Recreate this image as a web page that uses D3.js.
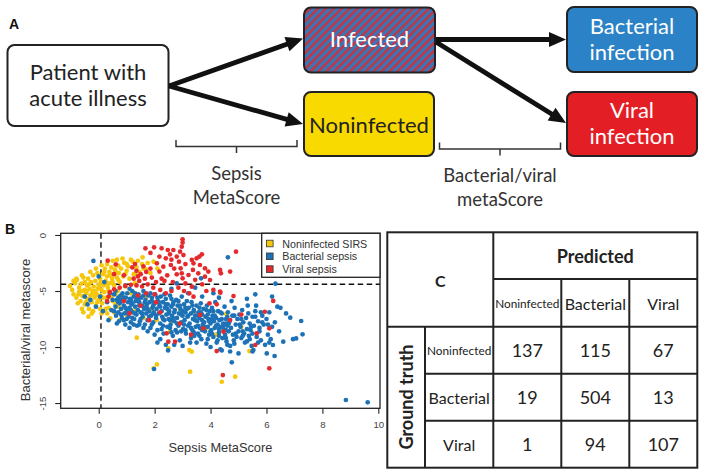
<!DOCTYPE html>
<html><head><meta charset="utf-8">
<script src="https://cdn.jsdelivr.net/npm/d3@7"></script>
<style>body{margin:0;background:#fff}svg{display:block}</style>
</head><body>
<svg id="c" width="704" height="475"></svg>
<script>
// ---------------- DATA ----------------
const flowLabels = {
  patient: ["Patient with", "acute illness"],
  infected: ["Infected"],
  noninfected: ["Noninfected"],
  bacterial: ["Bacterial", "infection"],
  viral: ["Viral", "infection"],
  step1: ["Sepsis", "MetaScore"],
  step2: ["Bacterial/viral", "metaScore"]
};
const seriesNames = ["Noninfected SIRS", "Bacterial sepsis", "Viral sepsis"];
const xTicks = [0, 2, 4, 6, 8, 10];
const yTicks = [0, -5, -10, -15];
const sepsisCut = 0.08;
const bvCut = -4.4;

const noninfected = [
[-1.03,-4.55],[-0.95,-4.9],[-0.9,-5.3],[-0.85,-4.3],[-0.8,-5.6],[-0.78,-4.0],[-0.7,-4.7],[-0.7,-5.1],[-0.65,-5.9],[-0.62,-4.35],
[-0.58,-5.45],[-0.55,-3.8],[-0.5,-4.9],[-0.5,-6.2],[-0.45,-5.2],[-0.42,-4.5],[-0.4,-5.7],[-0.38,-3.9],[-0.35,-6.6],[-0.33,-4.8],
[-0.3,-5.4],[-0.28,-4.2],[-0.25,-6.0],[-0.22,-5.0],[-0.2,-3.6],[-0.18,-4.6],[-0.15,-5.6],[-0.12,-4.1],[-0.1,-6.3],[-0.08,-5.2],
[-0.05,-3.4],[-0.03,-4.8],[0.0,-5.8],[0.02,-4.4],[0.05,-3.9],[0.07,-5.4],[0.1,-4.9],[0.12,-6.1],[0.15,-3.5],[0.17,-4.5],
[0.2,-5.1],[0.22,-3.0],[0.25,-4.1],[0.28,-5.6],[0.3,-3.7],[0.33,-4.7],[0.35,-6.5],[0.38,-3.3],[0.4,-4.3],[0.43,-5.3],
[0.45,-2.9],[0.48,-3.9],[0.5,-5.9],[0.52,-3.5],[0.55,-4.5],[0.58,-3.1],[0.6,-6.2],[0.62,-2.7],[0.65,-3.8],[0.68,-5.0],
[0.7,-2.74],[0.72,-3.4],[0.75,-4.2],[0.8,-3.0],[0.85,-5.5],[0.88,-3.7],[0.91,-2.47],[0.95,-4.6],[1.0,-3.2],[1.05,-2.8],
[1.1,-3.9],[1.15,-5.2],[1.22,-2.38],[1.25,-3.5],[1.3,-4.3],[1.35,-2.9],[1.45,-3.3],[1.57,-1.99],[1.6,-3.0],[1.75,-2.5],
[1.85,-3.4],[1.96,-2.38],[-0.37,-7.29],[0.41,-7.44],[0.76,-7.59],[1.0,-7.14],[-0.6,-6.6],[-0.2,-6.8],[0.1,-7.0],[0.55,-6.9],
[0.25,-6.6],[-0.45,-6.0],[0.7,-6.4],[1.3,-6.8],[1.6,-7.4],[1.9,-6.6],[-0.6,-5.0],[-0.35,-4.4],[-0.15,-5.0],[0.0,-4.6],
[-0.25,-5.3],[-0.5,-4.2],[-0.72,-5.3],[0.08,-4.2],[-0.1,-5.4],[-0.42,-5.0],[1.36,-9.17],[2.08,-11.55],[1.96,-11.9],[2.49,-10.12],
[3.24,-10.27],[3.33,-10.42],[3.27,-12.2],[4.40,-13.1],[4.88,-12.65],[5.39,-10.36],[2.55,-8.63],[3.84,-8.33],[4.56,-7.05],[2.08,-7.59],
[2.6,-7.7],[1.4,-5.9],[1.7,-5.6],[2.9,-6.6],[3.5,-7.0],[4.2,-8.9],[5.1,-8.2],
[0.3,-2.6],[0.5,-2.3],[0.65,-2.2],[0.85,-2.1],[1.0,-2.6],[1.15,-2.2],[1.4,-2.3],[0.2,-3.3],[0.4,-3.6],[0.6,-3.3],
[0.95,-3.5],[0.7,-4.0],[0.3,-4.4],[0.5,-4.2],[-0.6,-3.6],[-0.8,-3.9],[-0.9,-4.1],[-0.3,-3.3],[-0.1,-3.0],[0.1,-2.7],
[-0.75,-6.1],[-0.55,-6.9],[-0.25,-7.0],[0.05,-6.6],[0.3,-7.0],[0.15,-5.6],[-0.05,-6.0],[0.35,-5.0],[0.45,-5.6],[0.6,-5.3],
[1.55,-2.6],[1.7,-3.1],[2.1,-3.0],[1.3,-3.5]
];

const bacterial = [
[-0.19,-2.32],[-0.3,-5.8],[-0.1,-6.4],[0.05,-5.5],[0.15,-6.8],[0.3,-6.0],[0.4,-5.2],[0.45,-6.7],[-0.4,-6.2],[0.2,-4.2],[0.0,-3.7],[0.35,-7.6],[0.5,-5.8],[-0.5,-5.5],
[0.55,-5.3],[0.6,-6.4],[0.62,-7.2],[0.65,-5.8],[0.7,-6.9],[0.72,-7.7],[0.75,-6.1],[0.78,-5.4],[0.8,-6.6],[0.83,-7.4],[0.86,-5.9],[0.9,-6.3],[0.92,-7.0],[0.95,-8.0],[0.97,-5.6],[1.0,-6.7],
[1.02,-5.2],[1.05,-6.0],[1.07,-7.3],[1.1,-6.5],[1.12,-5.7],[1.15,-7.8],[1.17,-6.2],[1.2,-5.0],[1.22,-6.9],[1.25,-5.5],[1.27,-7.5],[1.3,-6.4],[1.32,-5.9],[1.35,-7.1],[1.37,-8.1],[1.4,-6.7],[1.42,-5.3],[1.45,-6.0],[1.47,-7.7],[1.5,-6.9],
[1.52,-5.6],[1.55,-6.3],[1.57,-7.3],[1.6,-5.0],[1.62,-6.6],[1.65,-8.0],[1.67,-5.8],[1.7,-7.0],[1.72,-6.2],[1.75,-7.6],[1.77,-5.4],[1.8,-6.8],[1.82,-6.0],[1.85,-8.3],[1.87,-7.2],[1.9,-5.6],[1.92,-6.5],[1.95,-7.8],[1.97,-6.9],[2.0,-6.1],
[2.02,-5.3],[2.05,-7.4],[2.07,-6.6],[2.1,-8.5],[2.12,-5.9],[2.15,-7.0],[2.17,-6.3],[2.2,-7.9],[2.22,-5.5],[2.25,-6.8],[2.27,-7.3],[2.3,-6.0],[2.32,-8.8],[2.35,-7.6],[2.37,-6.5],[2.4,-5.7],[2.42,-7.1],[2.45,-8.2],[2.47,-6.2],[2.5,-7.5],[2.2,-9.3],[2.4,-9.8],[2.48,-10.3],
[2.52,-6.8],[2.55,-5.4],[2.57,-8.0],[2.6,-6.4],[2.62,-7.2],[2.65,-9.0],[2.67,-6.0],[2.7,-7.7],[2.72,-6.7],[2.75,-8.5],[2.77,-5.8],[2.8,-7.4],[2.82,-6.3],[2.85,-8.1],[2.87,-7.0],[2.9,-9.4],[2.92,-6.6],[2.95,-7.8],[2.97,-5.5],[3.0,-7.2],[2.79,-4.32],[2.6,-4.8],
[3.02,-8.4],[3.05,-6.2],[3.07,-7.6],[3.1,-6.9],[3.12,-8.8],[3.15,-5.9],[3.17,-7.3],[3.2,-8.1],[3.22,-6.5],[3.25,-7.9],[3.27,-9.6],[3.3,-7.0],[3.32,-6.0],[3.35,-8.5],[3.37,-7.5],[3.4,-6.7],[3.42,-9.0],[3.45,-7.2],[3.47,-8.2],[3.5,-6.3],[3.2,-5.2],[3.45,-4.7],
[3.52,-7.7],[3.55,-8.8],[3.57,-6.9],[3.6,-7.4],[3.62,-8.3],[3.65,-6.1],[3.66,-3.87],[3.67,-9.3],[3.7,-7.1],[3.72,-8.0],[3.75,-6.6],[3.77,-7.8],[3.8,-8.6],[3.82,-7.3],[3.85,-9.7],[3.87,-6.3],[3.9,-8.2],[3.92,-7.5],[3.95,-8.9],[3.97,-6.8],[4.0,-7.9],[3.7,-5.5],
[4.02,-8.5],[4.05,-6.5],[4.07,-7.2],[4.1,-9.1],[4.12,-7.7],[4.15,-8.3],[4.17,-6.0],[4.2,-7.4],[4.22,-9.6],[4.25,-8.0],[4.27,-6.8],[4.3,-8.7],[4.32,-7.6],[4.35,-10.2],[4.37,-8.2],[4.4,-7.0],[4.42,-9.2],[4.45,-7.9],[4.47,-8.5],[4.5,-6.4],[4.1,-5.2],[4.3,-5.6],
[4.52,-8.9],[4.55,-7.5],[4.57,-9.5],[4.6,-8.1],[4.62,-1.99],[4.62,-6.9],[4.65,-8.6],[4.68,-7.7],[4.7,-9.9],[4.73,-8.3],[4.76,-11.37],[4.78,-7.2],[4.8,-8.9],[4.83,-9.4],[4.86,-6.5],[4.9,-8.0],[4.93,-9.1],[4.96,-7.5],[5.0,-10.57],[5.0,-8.6],[4.75,-5.9],
[5.03,-7.1],[5.07,-8.2],[5.1,-9.2],[5.13,-6.7],[5.17,-7.8],[5.2,-8.8],[5.23,-9.6],[5.27,-7.4],[5.3,-8.4],[5.33,-6.3],[5.37,-9.0],[5.4,-7.9],[5.43,-8.5],[5.47,-9.9],[5.5,-7.3],[5.3,-5.7],
[5.53,-10.27],[5.55,-8.1],[5.6,-6.8],[5.63,-6.31],[5.65,-9.1],[5.7,-7.7],[5.75,-8.6],[5.8,-9.4],[5.85,-7.2],[5.9,-8.0],[5.95,-9.8],[6.0,-7.5],[6.01,-10.57],[5.6,-5.3],
[6.05,-8.9],[6.1,-6.9],[6.15,-9.3],[6.23,-9.82],[6.29,-10.8],[6.32,-4.35],[6.39,-6.4],[6.3,-7.8],[6.45,-8.6],[6.6,-9.52],[6.7,-7.0],[6.85,-7.38],[7.06,-9.23],[6.95,-9.3],[7.24,-7.68],[7.29,-8.87],[6.5,-6.5],[6.2,-5.5],
[8.84,-14.73],[9.62,-14.94],[1.98,-11.96],[4.4,-10.3],[5.5,-10.4],
[0.6,-5.0],[0.85,-5.2],[1.1,-4.8],[1.3,-5.2],[0.7,-6.0],[0.95,-6.5],[1.2,-6.1],[1.45,-6.3],[1.7,-6.4],[1.95,-6.3],[2.2,-6.4],[2.45,-6.6],[2.7,-6.9],[2.95,-7.1],[3.2,-7.2],[3.45,-7.6],[3.7,-7.6],[3.95,-7.7],[4.2,-8.1],[4.45,-8.2],
[0.8,-7.1],[1.05,-7.0],[1.3,-7.0],[1.55,-7.0],[1.8,-7.3],[2.05,-7.2],[2.3,-7.5],[2.55,-7.6],[2.8,-7.9],[3.05,-8.0],[3.3,-8.3],[3.55,-8.1],[3.8,-8.2],[4.05,-8.8],[4.3,-9.0],[4.55,-8.5],
[0.9,-5.6],[1.15,-5.8],[1.4,-5.7],[1.65,-6.0],[1.9,-5.9],[2.15,-6.0],[2.4,-6.2],[2.65,-6.2],[2.9,-6.3],[3.15,-6.6],[3.4,-6.8],[3.65,-6.9],[3.9,-7.1],[4.15,-7.2],[4.4,-7.5],[4.65,-7.9],
[0.65,-7.9],[1.0,-7.5],[1.25,-8.0],[1.6,-8.3],[1.9,-8.0],[2.25,-8.4],[2.6,-8.7],[2.95,-8.6],[3.3,-9.2],[3.6,-9.0],[3.9,-9.3],[4.25,-9.4],[4.6,-9.8],[5.3,-9.5],[4.9,-8.8],[5.15,-8.6],[5.45,-8.2],[5.75,-8.3],[5.8,-6.9],[6.2,-8.2],[6.1,-9.6],
[0.7,-5.6],[0.9,-7.6],[1.15,-6.7],[1.35,-5.6],[1.6,-5.4],[1.85,-5.2],[2.1,-5.6],[2.35,-5.3],[2.6,-5.7],[2.85,-5.9],[3.1,-6.5],[3.35,-6.3],[3.6,-6.5],[3.85,-6.7],[4.1,-6.8],[4.35,-6.9],[4.6,-7.3],[4.85,-7.2],[5.1,-7.5],[5.35,-7.0],
[5.6,-7.3],[5.85,-7.8],[6.05,-8.0],[1.1,-8.3],[1.45,-8.0],[1.75,-8.6],[2.0,-8.9],[2.3,-8.1],[2.55,-8.3],[2.8,-8.7],[3.1,-8.5],[3.4,-8.7],[3.7,-8.5],[4.0,-8.6],[4.3,-8.4],[4.55,-9.2],[4.85,-9.7],[5.15,-9.0],[5.4,-9.3],[5.7,-9.6],
[2.1,-9.6],[2.7,-9.8],[3.0,-9.9],[3.5,-9.6],[4.0,-10.0],[4.7,-10.4],[1.5,-7.5],[1.95,-7.0],[2.5,-7.0],[3.0,-6.8],[3.55,-7.2],[4.05,-7.5],[4.55,-7.9],[5.05,-8.0],[5.5,-8.8],[0.55,-6.8],[0.8,-5.8],[1.2,-7.4],[1.75,-6.6],[2.65,-7.4]
];

const viral = [
[1.67,-1.19],[1.98,-1.10],[2.25,-1.19],[2.47,-1.34],[2.67,-1.34],[3.00,-0.39],[3.00,-0.68],[2.97,-1.04],[2.91,-1.49],[3.03,-1.79],
[2.79,-1.93],[2.17,-1.93],[2.40,-2.08],[2.55,-1.73],[2.08,-2.53],[2.31,-2.83],[2.17,-3.27],[2.58,-2.68],[2.87,-2.38],[2.93,-2.98],
[2.97,-3.42],[3.00,-3.87],[2.79,-3.51],[3.33,-2.23],[3.50,-2.08],[3.60,-1.93],[3.69,-1.73],[3.39,-2.53],[3.62,-2.68],[3.80,-2.98],
[3.92,-3.27],[3.98,-4.02],[3.80,-3.72],[3.56,-3.42],[3.37,-3.12],[3.21,-3.57],[3.10,-4.32],[3.33,-4.61],[3.24,-5.21],[3.39,-5.51],
[4.34,-3.12],[4.37,-3.42],[4.70,-3.27],[4.91,-1.49],[0.32,-2.29],[0.61,-2.62],[1.85,-1.6],[2.6,-2.2],[3.1,-2.6],[2.7,-3.0],
[2.45,-3.6],[2.35,-4.1],[2.65,-4.2],[3.45,-4.0],[3.7,-4.4],[4.1,-4.9],[4.35,-5.15],[3.85,-5.0],
[0.55,-3.5],[0.9,-3.6],[1.2,-2.9],[1.35,-3.2],[1.5,-3.5],[1.7,-3.3],[1.85,-3.0],[1.6,-2.8],
[1.3,-2.6],[1.25,-3.9],[1.45,-4.1],[1.65,-3.9],[1.9,-3.8],[2.05,-4.2],
[2.25,-3.9],[1.75,-4.4],[1.55,-4.6],[1.35,-4.5],[1.15,-4.45],[0.95,-4.55],[0.75,-4.7],[0.55,-4.85],[0.4,-5.1],[0.35,-5.5],
[0.3,-5.9],[1.95,-4.7],[2.2,-4.9],[2.4,-5.2],[2.0,-5.3],[1.7,-5.2],[1.4,-5.4],[2.6,-5.0],[2.85,-4.7],[3.05,-5.0],
[1.4,-3.7],
[2.49,-9.52],[2.43,-8.78],[2.73,-9.52],[4.22,-10.36],[4.44,-12.50],[6.10,-11.90],[6.10,-8.33],[5.94,-6.85],[6.24,-5.89],[4.82,-5.45],
[4.34,-5.06],[4.22,-6.19],[3.96,-6.10],[3.63,-7.14],[5.65,-8.78],[5.60,-9.82],[4.70,-7.59],[3.74,-8.33],[4.46,-8.63],[2.2,-6.9],
[1.5,-6.3],[1.1,-7.0],[0.9,-5.9],[2.9,-7.9],[3.3,-8.9],[5.1,-7.1],[2.05,-6.0],[1.8,-7.6]
];

const predictedClasses = ["Noninfected", "Bacterial", "Viral"];
const truthClasses = ["Noninfected", "Bacterial", "Viral"];
const confusion = [[137, 115, 67], [19, 504, 13], [1, 94, 107]];

// ---------------- DRAW ----------------
const svg = d3.select("#c");
const LATO = "Lato, 'Open Sans', sans-serif";
const ARIAL = "'Liberation Sans', Arial, sans-serif";
const colors = {noninf: "#f5c60a", bact: "#1d72b7", viral: "#e52a2e"};

// ---- Panel A ----
const defs = svg.append("defs");
const pat = defs.append("pattern").attr("id", "stripes").attr("patternUnits", "userSpaceOnUse")
  .attr("width", 5.6).attr("height", 5.6).attr("patternTransform", "rotate(45)");
pat.append("rect").attr("width", 5.6).attr("height", 5.6).attr("fill", "#3776b8");
pat.append("rect").attr("width", 2.4).attr("height", 5.6).attr("fill", "#c5343f");

svg.append("text").attr("x", 9).attr("y", 28.5).attr("font-family", ARIAL).attr("font-weight", "bold")
  .attr("font-size", 14).attr("fill", "#111").text("A");

function box(x, y, w, h, fill, lines, color, baselines) {
  svg.append("rect").attr("x", x).attr("y", y).attr("width", w).attr("height", h).attr("rx", 7)
    .attr("fill", fill).attr("stroke", "#222").attr("stroke-width", 2);
  lines.forEach((t, i) => {
    svg.append("text").attr("x", x + w / 2).attr("y", baselines[i]).attr("text-anchor", "middle")
      .attr("font-family", LATO).attr("font-size", 22).attr("fill", color).text(t);
  });
}
box(7.5, 45, 161, 81, "#fff", flowLabels.patient, "#222", [79.5, 106]);
box(304, 7.5, 131, 65, "url(#stripes)", flowLabels.infected, "#fff", [47]);
box(304, 92, 130, 64, "#f8d900", flowLabels.noninfected, "#222", [133]);
box(567, 7, 130, 65, "#2b82c6", flowLabels.bacterial, "#fff", [33.5, 60]);
box(567, 92, 130, 64, "#e31e25", flowLabels.viral, "#fff", [117.5, 144]);

function arrow(x1, y1, x2, y2) {
  const a = Math.atan2(y2 - y1, x2 - x1), L = 17, Wd = 7.5;
  const c = Math.cos(a), s = Math.sin(a);
  const bx = x2 - L * c, by = y2 - L * s;
  svg.append("line").attr("x1", x1).attr("y1", y1).attr("x2", bx + 2 * c).attr("y2", by + 2 * s)
    .attr("stroke", "#111").attr("stroke-width", 4.8);
  svg.append("path").attr("d", `M${x2},${y2}L${bx - Wd * s},${by + Wd * c}L${bx + Wd * s},${by - Wd * c}Z`)
    .attr("fill", "#111");
}
arrow(169, 86, 303, 38.5);
arrow(169, 86, 303, 124);
arrow(436, 39.5, 566, 39.5);
arrow(436, 42, 566, 123);

function bracket(x1, x2, y, lines, baselines) {
  const m = (x1 + x2) / 2;
  svg.append("path").attr("d", `M${x1},${y - 6.5}V${y}H${x2}V${y - 6.5}M${m},${y}V${y + 6.5}`)
    .attr("fill", "none").attr("stroke", "#333").attr("stroke-width", 1.5);
  lines.forEach((t, i) => svg.append("text").attr("x", m).attr("y", baselines[i]).attr("text-anchor", "middle")
    .attr("font-family", LATO).attr("font-size", 18.5).attr("fill", "#333").text(t));
}
bracket(176, 297, 146.5, flowLabels.step1, [179.5, 203.5]);
bracket(439.5, 560.5, 149, flowLabels.step2, [182, 206]);

// ---- Panel B ----
svg.append("text").attr("x", 5).attr("y", 233.5).attr("font-family", ARIAL).attr("font-weight", "bold")
  .attr("font-size", 14).attr("fill", "#111").text("B");

const x = d3.scaleLinear().domain([-1.36, 10.06]).range([60.7, 380]);
const y = d3.scaleLinear().domain([-15.47, 0.15]).range([408.3, 233.3]);

const plot = svg.append("g");
plot.append("line").attr("x1", x(sepsisCut)).attr("x2", x(sepsisCut)).attr("y1", y.range()[1]).attr("y2", y.range()[0])
  .attr("stroke", "#111").attr("stroke-width", 1.4).attr("stroke-dasharray", "5.5,3.5");
plot.append("line").attr("x1", x.range()[0]).attr("x2", x.range()[1]).attr("y1", y(bvCut)).attr("y2", y(bvCut))
  .attr("stroke", "#111").attr("stroke-width", 1.4).attr("stroke-dasharray", "5.5,3.5");

const groups = [[noninfected, colors.noninf], [bacterial, colors.bact], [viral, colors.viral]];
groups.forEach(([data, col]) => {
  plot.append("g").selectAll("circle").data(data).join("circle")
    .attr("cx", d => x(d[0])).attr("cy", d => y(d[1])).attr("r", 2.35).attr("fill", col);
});

plot.append("rect").attr("x", 60.7).attr("y", 233.3).attr("width", 380 - 60.7).attr("height", 408.3 - 233.3)
  .attr("fill", "none").attr("stroke", "#222").attr("stroke-width", 1.3);

const xAxis = svg.append("g").attr("transform", "translate(0,408.3)")
  .call(d3.axisBottom(x).tickValues(xTicks).tickSize(5.5).tickSizeOuter(0).tickFormat(d => String(d)));
xAxis.select(".domain").remove();
xAxis.selectAll(".tick line").attr("stroke", "#222").attr("stroke-width", 1.1);
xAxis.selectAll(".tick text").attr("y", 13).attr("font-family", ARIAL).attr("font-size", 9.6).attr("fill", "#444");

const yAxis = svg.append("g").attr("transform", "translate(60.7,0)")
  .call(d3.axisLeft(y).tickValues(yTicks).tickSize(5.5).tickSizeOuter(0).tickFormat(d => String(d)));
yAxis.select(".domain").remove();
yAxis.selectAll(".tick line").attr("stroke", "#222").attr("stroke-width", 1.1);
yAxis.selectAll(".tick text").attr("x", null).attr("dy", null).attr("text-anchor", "middle")
  .attr("dominant-baseline", "central")
  .attr("transform", "translate(-18,0) rotate(-90)")
  .attr("font-family", ARIAL).attr("font-size", 9.6).attr("fill", "#444");

svg.append("text").attr("x", 220.4).attr("y", 452).attr("text-anchor", "middle").attr("font-family", ARIAL)
  .attr("font-size", 12.8).attr("fill", "#333").text("Sepsis MetaScore");
svg.append("text").attr("transform", "translate(29.5,330) rotate(-90)").attr("text-anchor", "middle")
  .attr("font-family", ARIAL).attr("font-size", 13).attr("fill", "#333").text("Bacterial/viral metascore");

// legend
const lg = svg.append("g");
lg.append("rect").attr("x", 261.7).attr("y", 233.3).attr("width", 380 - 261.7).attr("height", 44)
  .attr("fill", "#fff").attr("stroke", "#222").attr("stroke-width", 1.3);
const legCols = [colors.noninf, colors.bact, colors.viral];
seriesNames.forEach((n, i) => {
  const cy = 243.5 + i * 12.8;
  lg.append("rect").attr("x", 266.5).attr("y", cy - 3.3).attr("width", 6.6).attr("height", 6.6)
    .attr("fill", legCols[i]).attr("stroke", "#333").attr("stroke-width", 0.8);
  lg.append("text").attr("x", 282.3).attr("y", cy).attr("dominant-baseline", "central")
    .attr("font-family", ARIAL).attr("font-size", 10.7).attr("fill", "#333").text(n);
});

// ---- Panel C ----
const tL = 387.3, tR = 697.3, tT = 232.3, tB = 467.7, hdrSplit = 279, bodyTop = 326.7, rowHdrL = 425, colL = 493.3;
const cx = d3.scaleBand().domain(predictedClasses).range([colL, tR]);
const ry = d3.scaleBand().domain(truthClasses).range([bodyTop, tB]);
const tg = svg.append("g").attr("stroke", "#222").attr("stroke-width", 2).attr("fill", "none");
tg.append("rect").attr("x", tL).attr("y", tT).attr("width", tR - tL).attr("height", tB - tT);
tg.append("line").attr("x1", colL).attr("x2", colL).attr("y1", tT).attr("y2", tB);
tg.append("line").attr("x1", rowHdrL).attr("x2", rowHdrL).attr("y1", bodyTop).attr("y2", tB);
predictedClasses.slice(1).forEach(c => tg.append("line").attr("x1", cx(c)).attr("x2", cx(c)).attr("y1", hdrSplit).attr("y2", tB));
tg.append("line").attr("x1", colL).attr("x2", tR).attr("y1", hdrSplit).attr("y2", hdrSplit);
tg.append("line").attr("x1", tL).attr("x2", tR).attr("y1", bodyTop).attr("y2", bodyTop);
truthClasses.slice(1).forEach(r => tg.append("line").attr("x1", rowHdrL).attr("x2", tR).attr("y1", ry(r)).attr("y2", ry(r)));

function ttext(xp, yp, t, size, bold, rot) {
  const e = svg.append("text").attr("text-anchor", "middle").attr("dominant-baseline", "central")
    .attr("font-family", LATO).attr("font-size", size).attr("fill", "#222")
    .attr("font-weight", bold ? "bold" : "normal").text(t);
  if (rot) e.attr("transform", `translate(${xp},${yp}) rotate(-90)`); else e.attr("x", xp).attr("y", yp);
}
ttext((tL + colL) / 2, 280, "C", 16, true);
ttext((colL + tR) / 2, 256, "Predicted", 18, true);
predictedClasses.forEach(c => ttext(cx(c) + cx.bandwidth() / 2, 303.5, c, c === "Noninfected" ? 11.8 : 16, false));
truthClasses.forEach(r => ttext((rowHdrL + colL) / 2, ry(r) + ry.bandwidth() / 2, r, r === "Noninfected" ? 11.8 : 16, false));
ttext(406, 397, "Ground truth", 18, true, true);
confusion.forEach((row, i) => row.forEach((v, j) => {
  ttext(cx(predictedClasses[j]) + cx.bandwidth() / 2, ry(truthClasses[i]) + ry.bandwidth() / 2, String(v), 18, false);
}));
</script>
</body></html>
